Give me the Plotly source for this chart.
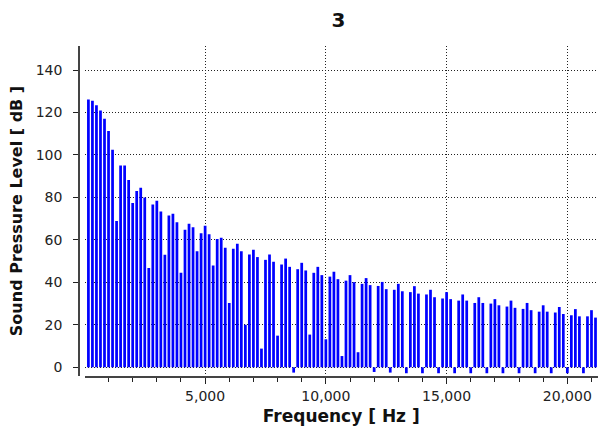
import plotly.graph_objects as go

# FFT bin spacing: bin 30 sits on 5,000 Hz
bin_width_hz = 5000 / 30
bins = list(range(1, 128))
frequencies = [k * bin_width_hz for k in bins]

spl_db = [
    126.1, 125.5, 123.4, 120.9, 117.0, 111.3, 102.4, 68.9, 95.0, 95.0,
    88.2, 77.4, 83.0, 84.6, 80.0, 46.7, 76.7, 78.4, 73.4, 53.0,
    71.5, 72.3, 68.3, 44.5, 64.8, 67.6, 66.0, 54.7, 63.1, 66.6,
    62.6, 47.9, 60.4, 61.0, 56.3, 30.3, 55.8, 58.2, 54.7, 20.0,
    53.1, 55.3, 51.9, 8.8, 50.6, 53.1, 49.7, 14.9, 48.4, 51.2,
    47.3, -2.5, 46.2, 49.2, 45.6, 15.4, 44.5, 47.3, 43.4, 13.2,
    42.7, 45.0, 41.5, 5.3, 40.8, 43.4, 40.1, 7.1, 39.3, 42.0,
    38.7, -2.2, 38.3, 40.2, 36.8, -2.5, 36.5, 39.3, 35.8, -2.8,
    35.4, 38.2, 34.7, -2.8, 34.3, 36.5, 33.0, -2.8, 32.4, 35.4,
    32.1, -2.8, 31.4, 34.3, 31.4, -2.8, 30.3, 33.0, 30.3, -2.8,
    30.0, 32.1, 29.2, -2.8, 28.6, 31.4, 28.0, -2.8, 27.5, 30.3,
    26.9, -2.8, 26.2, 29.2, 26.2, -2.8, 25.8, 28.4, 25.1, -2.8,
    24.5, 27.4, 24.0, -2.8, 24.0, 26.9, 23.4,
]

x_ticks = [5000, 10000, 15000, 20000]
y_ticks = [0, 20, 40, 60, 80, 100, 120, 140]

title_text = "3"
x_title = "Frequency [ Hz ]"
y_title = "Sound Pressure Level [ dB ]"

FONT = "DejaVu Sans"
GRID_DASH = "1px,2px"

fig = go.Figure(
    go.Bar(
        x=frequencies,
        y=spl_db,
        width=bin_width_hz * 0.68,
        marker=dict(color="#0000ff", line=dict(width=0)),
    )
)

fig.update_layout(
    width=598,
    height=436,
    margin=dict(l=79, r=0, t=46, b=60),
    paper_bgcolor="white",
    plot_bgcolor="white",
    showlegend=False,
    title=dict(
        text=title_text,
        x=0.5,
        xref="paper",
        xanchor="center",
        y=1 - 20 / 436,
        yref="container",
        yanchor="middle",
        font=dict(family=FONT, size=20, color="#111", weight="bold"),
    ),
    font=dict(family=FONT, color="#222"),
)

fig.update_xaxes(
    domain=[0.0106, 1],
    range=[5, 21270],
    tickvals=x_ticks,
    tickformat=",d",
    ticks="outside",
    ticklen=6,
    tickcolor="#222",
    tickfont=dict(family=FONT, size=14, color="#222"),
    showline=True,
    linecolor="#444",
    linewidth=1.5,
    showgrid=True,
    gridcolor="#222",
    griddash=GRID_DASH,
    gridwidth=1,
    zeroline=False,
    minor=dict(dtick=1000, tick0=0, ticks="outside", ticklen=4, tickcolor="#222", showgrid=False),
    title=dict(text=x_title, font=dict(family=FONT, size=17, color="#111", weight="bold"), standoff=8),
    automargin=False,
)

fig.update_yaxes(
    anchor="free",
    position=0,
    range=[-4.1, 151.3],
    tickvals=y_ticks,
    ticks="outside",
    ticklen=5,
    tickcolor="#222",
    ticklabelstandoff=8,
    tickfont=dict(family=FONT, size=14, color="#222"),
    showline=True,
    linecolor="#444",
    linewidth=1.5,
    showgrid=True,
    gridcolor="#222",
    griddash=GRID_DASH,
    gridwidth=1,
    zeroline=False,
    title=dict(text=y_title, font=dict(family=FONT, size=16, color="#111", weight="bold"), standoff=8),
    automargin=False,
)

fig.write_html("out.html")
